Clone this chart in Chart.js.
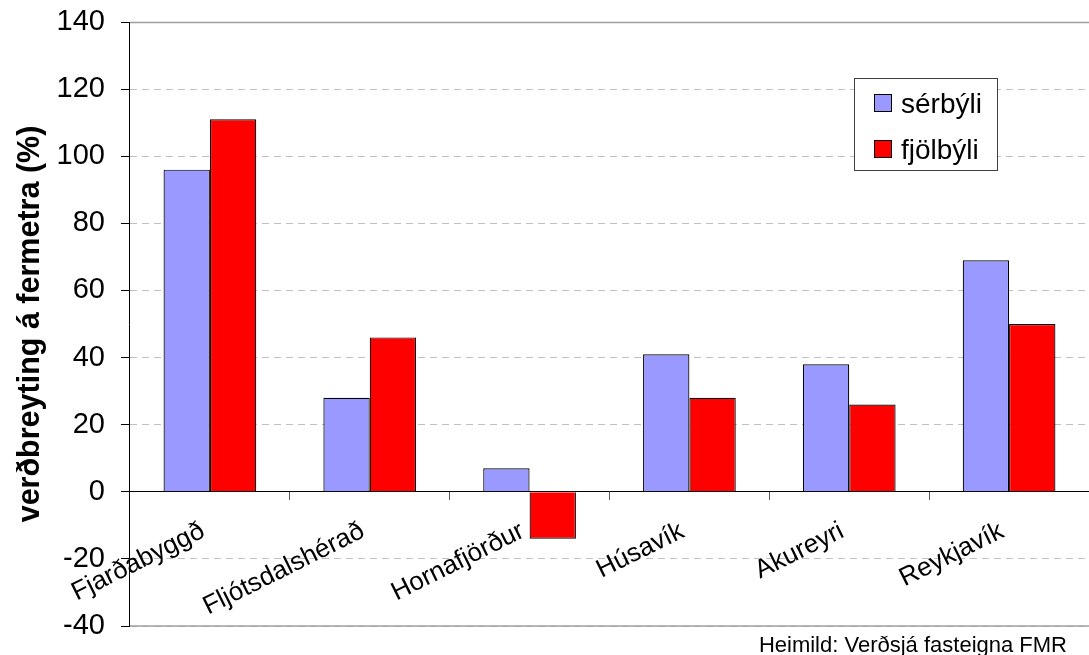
<!DOCTYPE html>
<html>
<head>
<meta charset="utf-8">
<script src="https://cdn.jsdelivr.net/npm/chart.js@4.4.1/dist/chart.umd.min.js"></script>
<style>
  html, body { margin: 0; padding: 0; background: #fff; }
  #wrap { width: 1089px; height: 655px; }
</style>
</head>
<body>
<div id="wrap"><canvas id="chart" width="1089" height="655"></canvas></div>
<script>
const categories = ["Fjarðabyggð", "Fljótsdalshérað", "Hornafjörður", "Húsavík", "Akureyri", "Reykjavík"];
const serbyli = [96, 28, 7, 41, 38, 69];
const fjolbyli = [111, 46, -14, 28, 26, 50];
const seriesNames = ["sérbýli", "fjölbýli"];
const seriesColors = ["#9999ff", "#ff0000"];
const yMin = -40;
const yMax = 140;
const yStep = 20;
const yTitle = "verðbreyting á fermetra (%)";
const sourceNote = "Heimild: Verðsjá fasteigna FMR";

const FONT = "'Liberation Sans', Arial, sans-serif";

// gray frame lines at the top and bottom of the plot area
const plotFrame = {
  id: "plotFrame",
  beforeDatasetsDraw(chart) {
    const { ctx, chartArea: a } = chart;
    ctx.save();
    ctx.strokeStyle = "#a0a0a0";
    ctx.lineWidth = 1.5;
    ctx.beginPath();
    ctx.moveTo(a.left, a.top + 0.5);
    ctx.lineTo(a.right, a.top + 0.5);
    ctx.moveTo(a.left, a.bottom);
    ctx.lineTo(a.right, a.bottom);
    ctx.stroke();
    ctx.restore();
  },
};

// boxed legend inside the plot, top right
const boxLegend = {
  id: "boxLegend",
  afterDraw(chart) {
    const { ctx, chartArea: a } = chart;
    const x = a.right - 235;
    const y = a.top + 56;
    const w = 143;
    const h = 92;
    ctx.save();
    ctx.fillStyle = "#fff";
    ctx.fillRect(x, y, w, h);
    ctx.strokeStyle = "#404040";
    ctx.lineWidth = 1;
    ctx.strokeRect(x + 0.5, y + 0.5, w, h);
    ctx.font = "28px " + FONT;
    ctx.textBaseline = "alphabetic";
    chart.data.datasets.forEach((ds, i) => {
      const top = y + 16 + i * 46;
      ctx.fillStyle = ds.backgroundColor;
      ctx.fillRect(x + 20, top, 18, 18);
      ctx.strokeStyle = "#000";
      ctx.strokeRect(x + 20.5, top + 0.5, 17, 17);
      ctx.fillStyle = "#000";
      ctx.fillText(ds.label, x + 47, top + 19);
    });
    ctx.restore();
  },
};

// source note under the plot, right aligned
const sourceText = {
  id: "sourceText",
  afterDraw(chart) {
    const { ctx } = chart;
    ctx.save();
    ctx.font = "22px " + FONT;
    ctx.fillStyle = "#000";
    ctx.textAlign = "right";
    ctx.textBaseline = "alphabetic";
    ctx.fillText(sourceNote, chart.width - 22, chart.height - 3);
    ctx.restore();
  },
};

new Chart(document.getElementById("chart"), {
  type: "bar",
  data: {
    labels: categories,
    datasets: [
      {
        label: seriesNames[0],
        data: serbyli,
        backgroundColor: seriesColors[0],
        borderColor: "#000",
        borderWidth: 1.2,
      },
      {
        label: seriesNames[1],
        data: fjolbyli,
        backgroundColor: seriesColors[1],
        borderColor: "#000",
        borderWidth: 1.2,
      },
    ],
  },
  options: {
    responsive: false,
    animation: false,
    devicePixelRatio: 1,
    datasets: { bar: { barPercentage: 1, categoryPercentage: 0.58 } },
    layout: { padding: { top: 22, right: 0, bottom: 29, left: 0 } },
    plugins: {
      legend: { display: false },
      tooltip: { enabled: false },
      title: { display: false },
    },
    scales: {
      x: {
        position: { y: 0 },
        offset: true,
        grid: {
          offset: true,
          drawOnChartArea: false,
          tickLength: 8,
          tickColor: "#606060",
        },
        border: { display: true, color: "#000", width: 1 },
        ticks: {
          autoSkip: false,
          minRotation: 26.5,
          maxRotation: 26.5,
          padding: 16,
          labelOffset: -7,
          color: "#000",
          font: { family: FONT, size: 26 },
        },
      },
      y: {
        min: yMin,
        max: yMax,
        ticks: {
          stepSize: yStep,
          padding: 16,
          color: "#000",
          font: { family: FONT, size: 29, lineHeight: 0.4 },
        },
        grid: {
          color: (c) => (c.tick && c.tick.value === 0 ? "rgba(0,0,0,0)" : "#c0c0c0"),
          lineWidth: 1,
          tickLength: 9,
          tickColor: "#000",
        },
        border: { display: true, color: "#000", width: 1, dash: [7, 5] },
        title: {
          display: true,
          text: yTitle,
          color: "#000",
          font: { family: FONT, size: 30.5, weight: "bold" },
          padding: { top: 12.7, bottom: -8.7 },
        },
      },
    },
  },
  plugins: [plotFrame, boxLegend, sourceText],
});
</script>
</body>
</html>
